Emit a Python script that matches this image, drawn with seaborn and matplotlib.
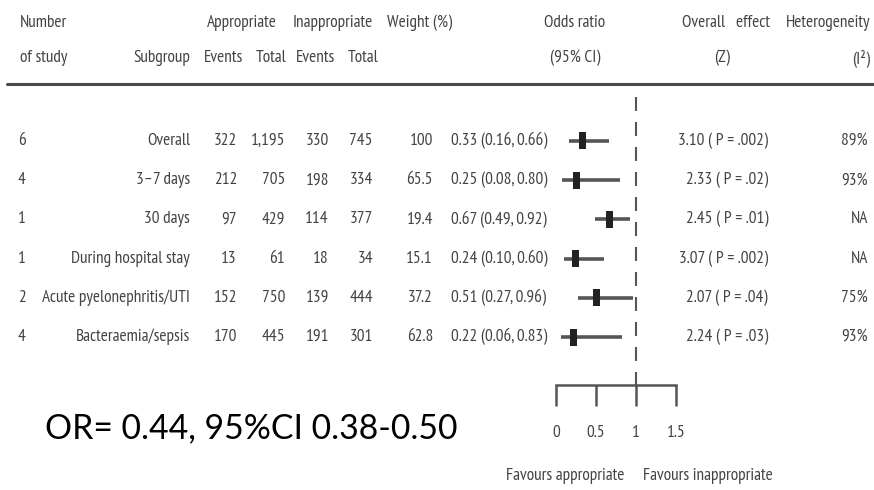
import matplotlib
matplotlib.use("Agg")
import matplotlib.pyplot as plt
from matplotlib.path import Path
from matplotlib.lines import Line2D
import seaborn as sns
import pandas as pd

# ---------------- data ----------------
n_study = [6, 4, 1, 1, 2, 4]
subgroups = ["Overall", "3\u20137 days", "30 days", "During hospital stay",
             "Acute pyelonephritis/UTI", "Bacteraemia/sepsis"]
app_events = [322, 212, 97, 13, 152, 170]
app_total = [1195, 705, 429, 61, 750, 445]
inapp_events = [330, 198, 114, 18, 139, 191]
inapp_total = [745, 334, 377, 34, 444, 301]
weight = ["100", "65.5", "19.4", "15.1", "37.2", "62.8"]
or_est = [0.33, 0.25, 0.67, 0.24, 0.51, 0.22]
ci_lo = [0.16, 0.08, 0.49, 0.10, 0.27, 0.06]
ci_hi = [0.66, 0.80, 0.92, 0.60, 0.96, 0.83]
z_val = [3.10, 2.33, 2.45, 3.07, 2.07, 2.24]
p_val = [".002", ".02", ".01", ".002", ".04", ".03"]
i2 = ["89%", "93%", "NA", "NA", "75%", "93%"]
x_ticks = [0, 0.5, 1, 1.5]
x_ticklabels = ["0", "0.5", "1", "1.5"]
summary_text = "OR= 0.44, 95%CI 0.38-0.50"

# ---------------- style ----------------
sns.set_style("white")
FAM = ["PT Sans Narrow", "Liberation Sans Narrow", "DejaVu Sans"]
FAM_OR = ["Gill Sans", "Lato", "DejaVu Sans"]
plt.rcParams["font.family"] = FAM
TXT = "#434343"
LINE = "#555555"

W, H = 874, 490
fig = plt.figure(figsize=(W / 100, H / 100), dpi=100)
fig.patch.set_facecolor("white")
renderer = fig.canvas.get_renderer()


def fit(text, family, target):
    t = fig.text(0, 0, text, fontsize=10, family=family)
    w = t.get_window_extent(renderer).width
    t.remove()
    return 10 * target / w


FS = fit("Favours appropriate", FAM, 114) * 1.05
FS_OR = fit(summary_text, FAM_OR, 410)


def px(x, y, s, ha="left", va="center", **kw):
    kw.setdefault("fontsize", FS)
    kw.setdefault("color", TXT)
    fig.text(x / W, 1 - y / H, s, ha=ha, va=va, **kw)


# ---------------- header ----------------
y1, y2 = 23, 58
px(20, y1, "Number")
px(242, y1, "Appropriate", ha="center")
px(333, y1, "Inappropriate", ha="center")
px(387, y1, "Weight (%)")
px(575, y1, "Odds ratio", ha="center")
px(770, y1, "Overall   effect", ha="right")
px(870, y1, "Heterogeneity", ha="right")

px(20, y2, "of study")
px(190, y2, "Subgroup", ha="right")
px(243, y2, "Events", ha="right")
px(287, y2, "Total", ha="right")
px(335, y2, "Events", ha="right")
px(378, y2, "Total", ha="right")
px(575, y2, "(95% CI)", ha="center")
px(722, y2, "(Z)", ha="center")
px(870, y2, "(I\u00b2)", ha="right")

fig.add_artist(Line2D([7 / W, 1.0], [1 - 84 / H] * 2, color="#4a4a4a", lw=2.2))

# ---------------- table rows ----------------
row_y0, row_dy = 141, 39.2
for i in range(len(subgroups)):
    y = row_y0 + i * row_dy
    px(18, y, str(n_study[i]))
    px(190, y, subgroups[i], ha="right")
    px(237, y, f"{app_events[i]:,}", ha="right")
    px(285, y, f"{app_total[i]:,}", ha="right")
    px(329, y, f"{inapp_events[i]:,}", ha="right")
    px(373, y, f"{inapp_total[i]:,}", ha="right")
    px(433, y, weight[i], ha="right")
    px(451, y, f"{or_est[i]:.2f} ({ci_lo[i]:.2f}, {ci_hi[i]:.2f})")
    px(768, y, f"{z_val[i]:.2f} ( P = {p_val[i]})", ha="right")
    px(868, y, i2[i], ha="right")

# ---------------- forest plot ----------------
top_px, bot_px = 90, 385
ax = fig.add_axes([556 / W, 1 - bot_px / H, 120 / W, (bot_px - top_px) / H])
ax.set_xlim(0, 1.5)
ax.set_ylim((bot_px - row_y0) / row_dy, (top_px - row_y0) / row_dy)
ax.patch.set_alpha(0)

df = pd.DataFrame({"row": range(len(subgroups)), "or": or_est, "lo": ci_lo, "hi": ci_hi})
ax.hlines(df["row"], df["lo"], df["hi"], color=LINE, lw=2.6, zorder=2)

hw = 0.5 * 7 / 17
rect = Path([(-hw, -0.5), (hw, -0.5), (hw, 0.5), (-hw, 0.5), (-hw, -0.5)],
            [Path.MOVETO, Path.LINETO, Path.LINETO, Path.LINETO, Path.CLOSEPOLY])
sns.scatterplot(data=df, x="or", y="row", marker=rect, s=(17 * 0.72) ** 2,
                color="#222222", edgecolor="none", linewidth=0, legend=False,
                ax=ax, zorder=3)

ax.plot([1, 1], [(97 - row_y0) / row_dy, (bot_px - row_y0) / row_dy],
        color=LINE, lw=1.5, linestyle=(0, (6.7, 5.3)), clip_on=False, zorder=1)

for s in ["top", "left", "right"]:
    ax.spines[s].set_visible(False)
ax.spines["bottom"].set_color(LINE)
ax.spines["bottom"].set_linewidth(1.8)
ax.set_xticks(x_ticks)
ax.set_xticklabels(x_ticklabels)
ax.set_yticks([])
ax.set_xlabel("")
ax.set_ylabel("")
ax.tick_params(axis="x", bottom=True, direction="out", length=15, width=1.8,
               color=LINE, labelsize=FS, labelcolor=TXT, pad=14)

px(624, 476, "Favours appropriate", ha="right")
px(643, 476, "Favours inappropriate", ha="left")

# ---------------- summary text ----------------
px(45, 428, summary_text, fontsize=FS_OR, color="black", family=FAM_OR)

fig.savefig("out.png", dpi=100)
